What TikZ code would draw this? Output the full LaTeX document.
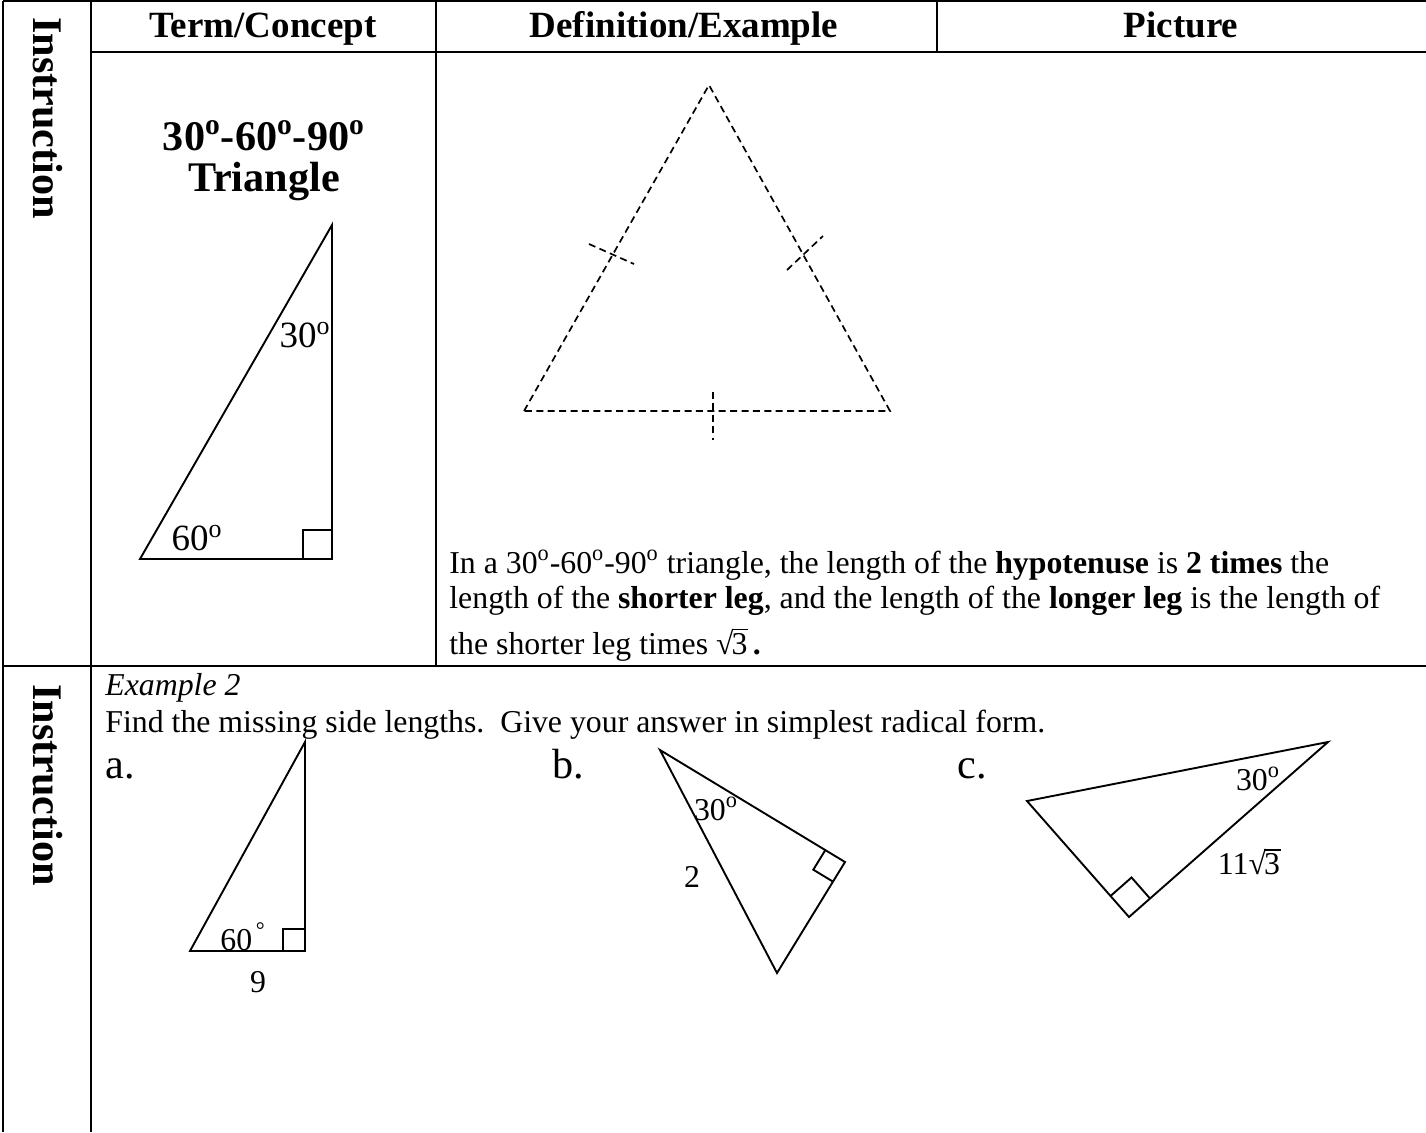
\documentclass[tikz,border=0pt]{standalone}
\usepackage{fontspec}
\setmainfont{Liberation Serif}
\usetikzlibrary{positioning,calc}

\newcommand{\rootthree}{\mbox{√\kern-0.06em\rlap{\rule[0.74em]{0.52em}{0.05em}}3}}

\tikzset{
    gridline/.style={line width=1.1pt},
    triline/.style={line width=0.95pt, line join=miter},
    dashline/.style={line width=0.85pt, dash pattern=on 3.5pt off 2.2pt},
    headtext/.style={font=\fontsize{18.5}{22}\selectfont\bfseries, anchor=base, inner sep=0pt},
    sidetext/.style={font=\fontsize{21.1}{25}\selectfont\bfseries, rotate=-90, inner sep=0pt},
    titletext/.style={font=\fontsize{21.1}{25}\selectfont\bfseries, anchor=base, inner sep=0pt},
    bodytext/.style={font=\fontsize{15.9}{19}\selectfont, anchor=base west, inner sep=0pt},
    lbl/.style={font=\fontsize{15.9}{19}\selectfont, inner sep=0pt},
    biglbl/.style={font=\fontsize{18.5}{22}\selectfont, inner sep=0pt},
    partlbl/.style={font=\fontsize{21.1}{25}\selectfont, anchor=base west, inner sep=0pt},
}

\begin{document}
\begin{tikzpicture}[x=0.5pt,y=-0.5pt]
\useasboundingbox (0,0) rectangle (1426,1132);

% table frame
\draw[gridline] (3,1) -- (1426,1);
\draw[gridline] (3,1) -- (3,1132);
\draw[gridline] (91,1) -- (91,1132);
\draw[gridline] (436,1) -- (436,666);
\draw[gridline] (937,1) -- (937,52);
\draw[gridline] (91,52) -- (1426,52);
\draw[gridline] (3,666) -- (1426,666);

% headers
\node[headtext] (hterm) at (263,37) {Term/Concept};
\node[headtext] (hdef) at (684,37) {Definition/Example};
\node[headtext] (hpic) at (1181,37) {Picture};
\node[sidetext] (side1) at (48,118) {Instruction};
\node[sidetext] (side2) at (48,785) {Instruction};

% term cell
\node[titletext] (ttl1) at (264,150) {30\textsuperscript{o}-60\textsuperscript{o}-90\textsuperscript{o}};
\node[titletext] (ttl2) at (264,191) {Triangle};

\coordinate (tA) at (140,559);
\coordinate (tB) at (332,559);
\coordinate (tC) at (332,225);
\draw[triline] (tA) -- (tB) -- (tC) -- cycle;
\draw[triline] (303,559) -- (303,530) -- (332,530);
\node[biglbl] (t30) at (305,335) {30\textsuperscript{o}};
\node[biglbl] (t60) at (197,538) {60\textsuperscript{o}};

% equilateral triangle
\coordinate (eqT) at (709,85);
\coordinate (eqL) at (524,411);
\coordinate (eqR) at (890,411);
\draw[dashline] (eqL) -- (eqT) -- (eqR) -- cycle;
\draw[dashline] (589,244) -- (634,264);
\draw[dashline] (787,270) -- (823,236);
\draw[dashline] (713,392) -- (713,440);

% rule text
\node[bodytext] (rule1) at (449,573) {In a 30\textsuperscript{o}-60\textsuperscript{o}-90\textsuperscript{o} triangle, the length of the \textbf{hypotenuse} is \textbf{2 times} the};
\node[bodytext] (rule2) at (449,608) {length of the \textbf{shorter leg}, and the length of the \textbf{longer leg} is the length of};
\node[bodytext] (rule3) at (449,654) {the shorter leg times \rootthree\,\textbf{.}};

% example 2
\node[bodytext, font=\fontsize{15.9}{19}\selectfont\itshape] (ex2) at (105,695) {Example 2};
\node[bodytext] (task) at (105,732) {Find the missing side lengths.\ \ Give your answer in simplest radical form.};
\node[partlbl] (pa) at (105,778) {a.};
\node[partlbl] (pb) at (552,778) {b.};
\node[partlbl] (pc) at (957,778) {c.};

% a
\coordinate (aA) at (190,951);
\coordinate (aB) at (305,951);
\coordinate (aC) at (305,742);
\draw[triline] (aA) -- (aB) -- (aC) -- cycle;
\draw[triline] (283,951) -- (283,929) -- (305,929);
\node[lbl, anchor=base west] (a60) at (220,950) {60\textsuperscript{\,°}};
\node[lbl] (a9) at (258,982) {9};

% b
\coordinate (bT) at (660,750);
\coordinate (bR) at (845,862);
\coordinate (bB) at (777,973);
\draw[triline] (bT) -- (bR) -- (bB) -- cycle;
\coordinate (bP) at ($(bR)!11.5pt!(bT)$);
\coordinate (bQ) at ($(bR)!11.5pt!(bB)$);
\draw[triline] (bP) -- ($(bP)+(bQ)-(bR)$) -- (bQ);
\node[lbl] (b30) at (716,809) {30\textsuperscript{o}};
\node[lbl] (b2) at (692,877) {2};

% c
\coordinate (cL) at (1027,801);
\coordinate (cR) at (1328,742);
\coordinate (cB) at (1129,917);
\draw[triline] (cL) -- (cR) -- (cB) -- cycle;
\coordinate (cP) at ($(cB)!14pt!(cL)$);
\coordinate (cQ) at ($(cB)!14pt!(cR)$);
\draw[triline] (cP) -- ($(cP)+(cQ)-(cB)$) -- (cQ);
\node[lbl] (c30) at (1258,779) {30\textsuperscript{o}};
\node[lbl] (c11) at (1249,862) {11\rootthree};
\end{tikzpicture}
\end{document}
